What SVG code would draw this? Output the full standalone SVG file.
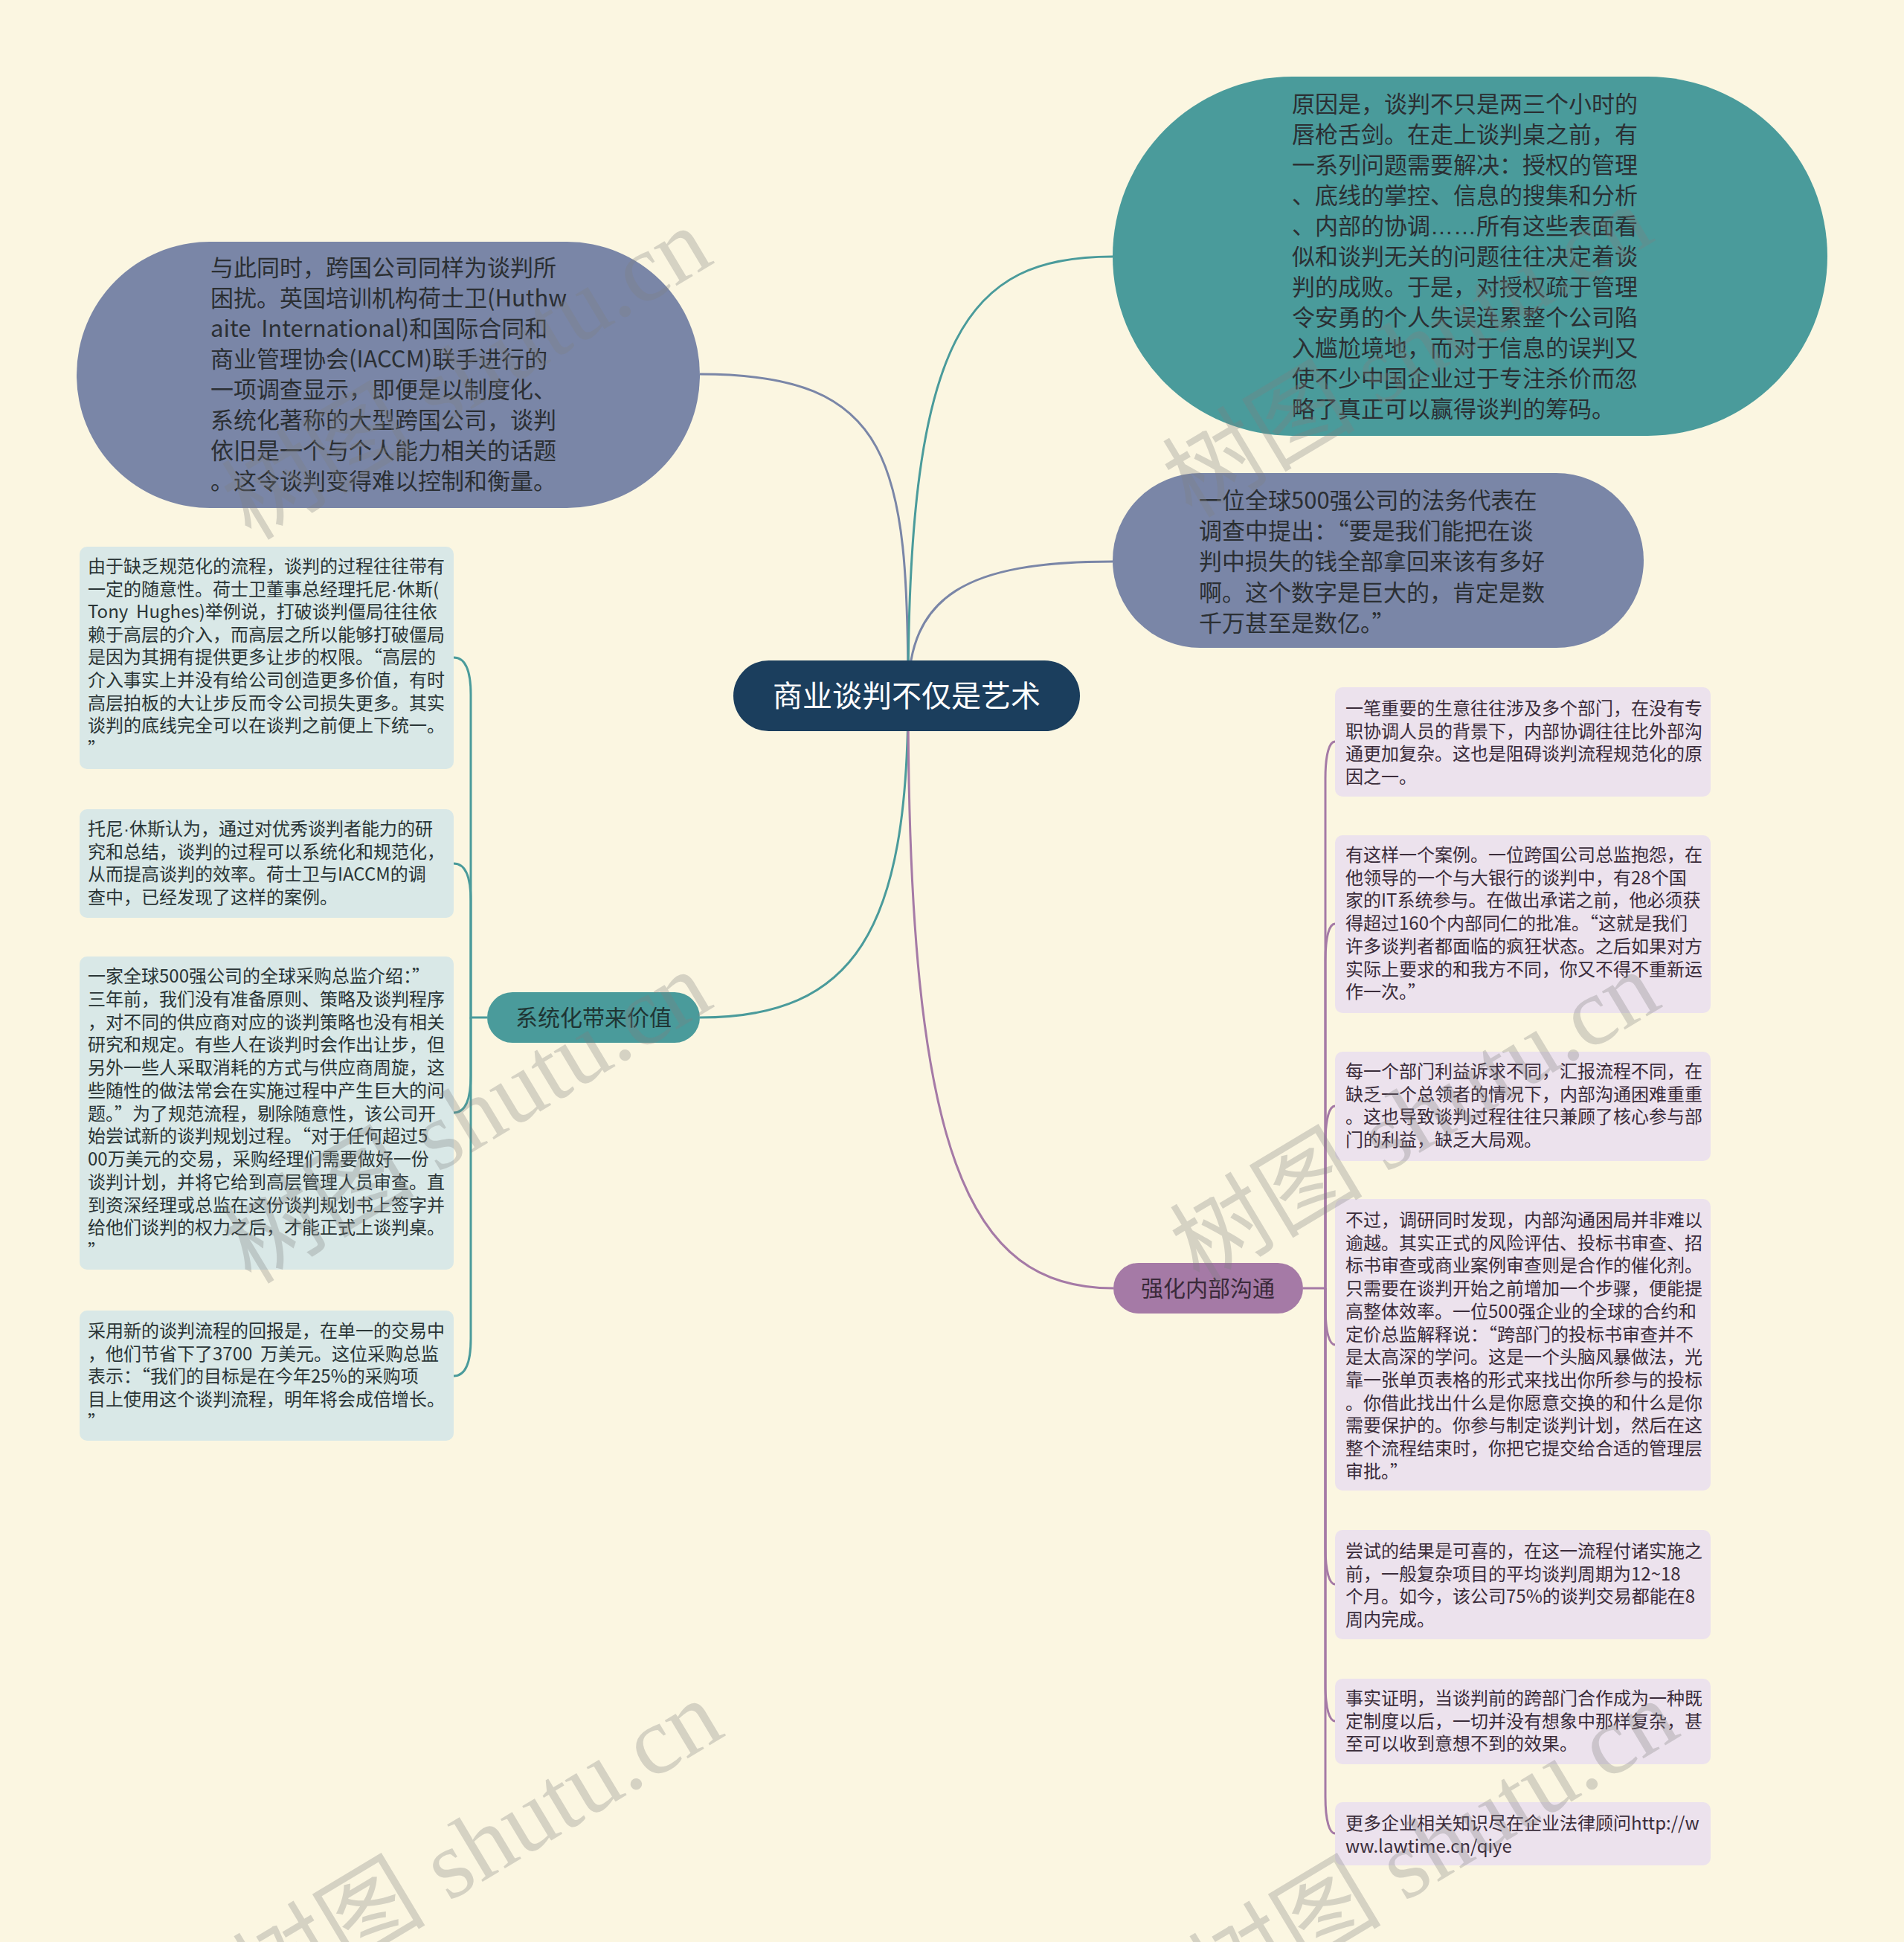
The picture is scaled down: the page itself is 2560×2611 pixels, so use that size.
<svg xmlns="http://www.w3.org/2000/svg" width="2560" height="2611" viewBox="0 0 2560 2611">
<style>
text{font-family:"Noto Sans CJK SC","Noto Sans",sans-serif;white-space:pre}
.big{font-size:31px;fill:#2b2f33}
.small{font-size:24px}
.lt{fill:#2a3536}
.rt{fill:#3a2c3a}
.lbox{fill:#d9e8e7}
.rbox{fill:#ece2ed}
.slate{fill:#7a86a7}
.teal{fill:#4a9b9b}
.purple{fill:#a57aa6}
.q{font-feature-settings:"fwid" 1}
.lat{font-family:"Liberation Sans",sans-serif}
.c-slate{fill:none;stroke:#7a86a7;stroke-width:3}
.c-teal{fill:none;stroke:#4a9b9b;stroke-width:3}
.c-purple{fill:none;stroke:#a57aa6;stroke-width:3}
.wm{font-family:"Liberation Serif","Noto Sans CJK SC",serif;font-size:130px;fill:#808080;opacity:0.3}
</style>
<rect width="2560" height="2611" fill="#fbf6e1"/>
<g id="connectors">
<path class="c-slate" d="M1221 935 C1221 620,1200 503,941 503"/>
<path class="c-teal" d="M1221 935 C1221 450,1300 345,1496 345"/>
<path class="c-slate" d="M1221 935 C1221 800,1300 755,1496 755"/>
<path class="c-teal" d="M1221 935 C1221 1250,1150 1368,941 1368"/>
<path class="c-purple" d="M1221 935 C1221 1550,1300 1732,1497 1732"/>
<path class="c-teal" d="M655 1368 H633 V934 C633 899,625 884,610 884"/>
<path class="c-teal" d="M633 1368 V1211 C633 1176,625 1161,610 1161"/>
<path class="c-teal" d="M633 1368 V1446 C633 1481,625 1496,610 1496"/>
<path class="c-teal" d="M633 1368 V1800 C633 1835,625 1850,610 1850"/>
<path class="c-purple" d="M1752 1732 H1782 V1047 C1782 1012,1788 997,1795 997"/>
<path class="c-purple" d="M1782 1732 V1292 C1782 1257,1788 1242,1795 1242"/>
<path class="c-purple" d="M1782 1732 V1537 C1782 1502,1788 1487,1795 1487"/>
<path class="c-purple" d="M1782 1732 V1758 C1782 1793,1788 1808,1795 1808"/>
<path class="c-purple" d="M1782 1732 V2080 C1782 2115,1788 2130,1795 2130"/>
<path class="c-purple" d="M1782 1732 V2264 C1782 2299,1788 2314,1795 2314"/>
<path class="c-purple" d="M1782 1732 V2415 C1782 2450,1788 2465,1795 2465"/>
</g>
<g id="center">
<rect x="986" y="888" width="466" height="95" rx="47.5" fill="#1b3e5d"/>
<text x="1219" y="950" text-anchor="middle" style="font-size:40px;fill:#ffffff">商业谈判不仅是艺术</text>
</g>
<g id="n-topleft">
<rect class="slate" x="103" y="325" width="838" height="358" rx="179"/>
<text class="big" x="283" y="371"><tspan x="283">与此同时，跨国公司同样为谈判所</tspan><tspan x="283" dy="41">困扰。英国培训机构荷士卫(Huthw</tspan><tspan x="283" dy="41">aite  International)和国际合同和</tspan><tspan x="283" dy="41">商业管理协会(IACCM)联手进行的</tspan><tspan x="283" dy="41">一项调查显示，即便是以制度化、</tspan><tspan x="283" dy="41">系统化著称的大型跨国公司，谈判</tspan><tspan x="283" dy="41">依旧是一个与个人能力相关的话题</tspan><tspan x="283" dy="41">。这令谈判变得难以控制和衡量。</tspan></text>
</g>
<g id="n-topright">
<rect class="teal" x="1496" y="103" width="961" height="483" rx="241.5"/>
<text class="big" x="1737" y="151"><tspan x="1737">原因是，谈判不只是两三个小时的</tspan><tspan x="1737" dy="41">唇枪舌剑。在走上谈判桌之前，有</tspan><tspan x="1737" dy="41">一系列问题需要解决：授权的管理</tspan><tspan x="1737" dy="41">、底线的掌控、信息的搜集和分析</tspan><tspan x="1737" dy="41">、内部的协调<tspan class="lat">……</tspan>所有这些表面看</tspan><tspan x="1737" dy="41">似和谈判无关的问题往往决定着谈</tspan><tspan x="1737" dy="41">判的成败。于是，对授权疏于管理</tspan><tspan x="1737" dy="41">令安勇的个人失误连累整个公司陷</tspan><tspan x="1737" dy="41">入尴尬境地，而对于信息的误判又</tspan><tspan x="1737" dy="41">使不少中国企业过于专注杀价而忽</tspan><tspan x="1737" dy="41">略了真正可以赢得谈判的筹码。</tspan></text>
</g>
<g id="n-quote">
<rect class="slate" x="1496" y="636" width="714" height="235" rx="117.5"/>
<text class="big" x="1612" y="684"><tspan x="1612">一位全球500强公司的法务代表在</tspan><tspan x="1612" dy="41.2">调查中提出：<tspan class="q">“</tspan>要是我们能把在谈</tspan><tspan x="1612" dy="41.2">判中损失的钱全部拿回来该有多好</tspan><tspan x="1612" dy="41.2">啊。这个数字是巨大的，肯定是数</tspan><tspan x="1612" dy="41.2">千万甚至是数亿。<tspan class="q">”</tspan></tspan></text>
</g>
<g id="n-system">
<rect class="teal" x="655" y="1334" width="286" height="68" rx="34"/>
<text x="798" y="1379" text-anchor="middle" style="font-size:30px;fill:#1f3534">系统化带来价值</text>
</g>
<g id="n-internal">
<rect class="purple" x="1497" y="1698" width="255" height="68" rx="34"/>
<text x="1624" y="1743" text-anchor="middle" style="font-size:30px;fill:#3a2a3a">强化内部沟通</text>
</g>
<g id="l1">
<rect class="lbox" x="107" y="735" width="503" height="299" rx="10"/>
<text class="small lt" x="118" y="770"><tspan x="118">由于缺乏规范化的流程，谈判的过程往往带有</tspan><tspan x="118" dy="30.6">一定的随意性。荷士卫董事总经理托尼<tspan class="lat">·</tspan>休斯(</tspan><tspan x="118" dy="30.6">Tony  Hughes)举例说，打破谈判僵局往往依</tspan><tspan x="118" dy="30.6">赖于高层的介入，而高层之所以能够打破僵局</tspan><tspan x="118" dy="30.6">是因为其拥有提供更多让步的权限。<tspan class="q">“</tspan>高层的</tspan><tspan x="118" dy="30.6">介入事实上并没有给公司创造更多价值，有时</tspan><tspan x="118" dy="30.6">高层拍板的大让步反而令公司损失更多。其实</tspan><tspan x="118" dy="30.6">谈判的底线完全可以在谈判之前便上下统一。</tspan><tspan x="118" dy="30.6" class="q">”</tspan></text>
</g>
<g id="l2">
<rect class="lbox" x="107" y="1088" width="503" height="146" rx="10"/>
<text class="small lt" x="118" y="1123"><tspan x="118">托尼<tspan class="lat">·</tspan>休斯认为，通过对优秀谈判者能力的研</tspan><tspan x="118" dy="30.6">究和总结，谈判的过程可以系统化和规范化，</tspan><tspan x="118" dy="30.6">从而提高谈判的效率。荷士卫与IACCM的调</tspan><tspan x="118" dy="30.6">查中，已经发现了这样的案例。</tspan></text>
</g>
<g id="l3">
<rect class="lbox" x="107" y="1286" width="503" height="421" rx="10"/>
<text class="small lt" x="118" y="1321"><tspan x="118">一家全球500强公司的全球采购总监介绍：<tspan class="q">”</tspan></tspan><tspan x="118" dy="30.75">三年前，我们没有准备原则、策略及谈判程序</tspan><tspan x="118" dy="30.75">，对不同的供应商对应的谈判策略也没有相关</tspan><tspan x="118" dy="30.75">研究和规定。有些人在谈判时会作出让步，但</tspan><tspan x="118" dy="30.75">另外一些人采取消耗的方式与供应商周旋，这</tspan><tspan x="118" dy="30.75">些随性的做法常会在实施过程中产生巨大的问</tspan><tspan x="118" dy="30.75">题。<tspan class="q">”</tspan>为了规范流程，剔除随意性，该公司开</tspan><tspan x="118" dy="30.75">始尝试新的谈判规划过程。<tspan class="q">“</tspan>对于任何超过5</tspan><tspan x="118" dy="30.75">00万美元的交易，采购经理们需要做好一份</tspan><tspan x="118" dy="30.75">谈判计划，并将它给到高层管理人员审查。直</tspan><tspan x="118" dy="30.75">到资深经理或总监在这份谈判规划书上签字并</tspan><tspan x="118" dy="30.75">给他们谈判的权力之后，才能正式上谈判桌。</tspan><tspan x="118" dy="30.75" class="q">”</tspan></text>
</g>
<g id="l4">
<rect class="lbox" x="107" y="1762" width="503" height="175" rx="10"/>
<text class="small lt" x="118" y="1798"><tspan x="118">采用新的谈判流程的回报是，在单一的交易中</tspan><tspan x="118" dy="30.6">，他们节省下了3700  万美元。这位采购总监</tspan><tspan x="118" dy="30.6">表示：<tspan class="q">“</tspan>我们的目标是在今年25%的采购项</tspan><tspan x="118" dy="30.6">目上使用这个谈判流程，明年将会成倍增长。</tspan><tspan x="118" dy="30.6" class="q">”</tspan></text>
</g>
<g id="r1">
<rect class="rbox" x="1795" y="924" width="505" height="147" rx="10"/>
<text class="small rt" x="1809" y="961"><tspan x="1809">一笔重要的生意往往涉及多个部门，在没有专</tspan><tspan x="1809" dy="30.7">职协调人员的背景下，内部协调往往比外部沟</tspan><tspan x="1809" dy="30.7">通更加复杂。这也是阻碍谈判流程规范化的原</tspan><tspan x="1809" dy="30.7">因之一。</tspan></text>
</g>
<g id="r2">
<rect class="rbox" x="1795" y="1123" width="505" height="239" rx="10"/>
<text class="small rt" x="1809" y="1158"><tspan x="1809">有这样一个案例。一位跨国公司总监抱怨，在</tspan><tspan x="1809" dy="30.7">他领导的一个与大银行的谈判中，有28个国</tspan><tspan x="1809" dy="30.7">家的IT系统参与。在做出承诺之前，他必须获</tspan><tspan x="1809" dy="30.7">得超过160个内部同仁的批准。<tspan class="q">“</tspan>这就是我们</tspan><tspan x="1809" dy="30.7">许多谈判者都面临的疯狂状态。之后如果对方</tspan><tspan x="1809" dy="30.7">实际上要求的和我方不同，你又不得不重新运</tspan><tspan x="1809" dy="30.7">作一次。<tspan class="q">”</tspan></tspan></text>
</g>
<g id="r3">
<rect class="rbox" x="1795" y="1414" width="505" height="147" rx="10"/>
<text class="small rt" x="1809" y="1449"><tspan x="1809">每一个部门利益诉求不同，汇报流程不同，在</tspan><tspan x="1809" dy="30.7">缺乏一个总领者的情况下，内部沟通困难重重</tspan><tspan x="1809" dy="30.7">。这也导致谈判过程往往只兼顾了核心参与部</tspan><tspan x="1809" dy="30.7">门的利益，缺乏大局观。</tspan></text>
</g>
<g id="r4">
<rect class="rbox" x="1795" y="1612" width="505" height="392" rx="10"/>
<text class="small rt" x="1809" y="1649"><tspan x="1809">不过，调研同时发现，内部沟通困局并非难以</tspan><tspan x="1809" dy="30.7">逾越。其实正式的风险评估、投标书审查、招</tspan><tspan x="1809" dy="30.7">标书审查或商业案例审查则是合作的催化剂。</tspan><tspan x="1809" dy="30.7">只需要在谈判开始之前增加一个步骤，便能提</tspan><tspan x="1809" dy="30.7">高整体效率。一位500强企业的全球的合约和</tspan><tspan x="1809" dy="30.7">定价总监解释说：<tspan class="q">“</tspan>跨部门的投标书审查并不</tspan><tspan x="1809" dy="30.7">是太高深的学问。这是一个头脑风暴做法，光</tspan><tspan x="1809" dy="30.7">靠一张单页表格的形式来找出你所参与的投标</tspan><tspan x="1809" dy="30.7">。你借此找出什么是你愿意交换的和什么是你</tspan><tspan x="1809" dy="30.7">需要保护的。你参与制定谈判计划，然后在这</tspan><tspan x="1809" dy="30.7">整个流程结束时，你把它提交给合适的管理层</tspan><tspan x="1809" dy="30.7">审批。<tspan class="q">”</tspan></tspan></text>
</g>
<g id="r5">
<rect class="rbox" x="1795" y="2057" width="505" height="147" rx="10"/>
<text class="small rt" x="1809" y="2094"><tspan x="1809">尝试的结果是可喜的，在这一流程付诸实施之</tspan><tspan x="1809" dy="30.7">前，一般复杂项目的平均谈判周期为12~18</tspan><tspan x="1809" dy="30.7">个月。如今，该公司75%的谈判交易都能在8</tspan><tspan x="1809" dy="30.7">周内完成。</tspan></text>
</g>
<g id="r6">
<rect class="rbox" x="1795" y="2257" width="505" height="115" rx="10"/>
<text class="small rt" x="1809" y="2292"><tspan x="1809">事实证明，当谈判前的跨部门合作成为一种既</tspan><tspan x="1809" dy="30.7">定制度以后，一切并没有想象中那样复杂，甚</tspan><tspan x="1809" dy="30.7">至可以收到意想不到的效果。</tspan></text>
</g>
<g id="r7">
<rect class="rbox" x="1795" y="2423" width="505" height="85" rx="10"/>
<text class="small rt" x="1809" y="2460"><tspan x="1809">更多企业相关知识尽在企业法律顾问http://w</tspan><tspan x="1809" dy="30.7">ww.lawtime.cn/qiye</tspan></text>
</g>
<g id="watermarks">
<text class="wm" text-anchor="middle" transform="translate(650 540) rotate(-31)">树图 shutu.cn</text>
<text class="wm" text-anchor="middle" transform="translate(650 1540) rotate(-31)">树图 shutu.cn</text>
<text class="wm" text-anchor="middle" transform="translate(665 2520) rotate(-31)">树图 shutu.cn</text>
<text class="wm" text-anchor="middle" transform="translate(1915 510) rotate(-31)">树图 shutu.cn</text>
<text class="wm" text-anchor="middle" transform="translate(1925 1540) rotate(-31)">树图 shutu.cn</text>
<text class="wm" text-anchor="middle" transform="translate(1950 2520) rotate(-31)">树图 shutu.cn</text>
</g>
</svg>
